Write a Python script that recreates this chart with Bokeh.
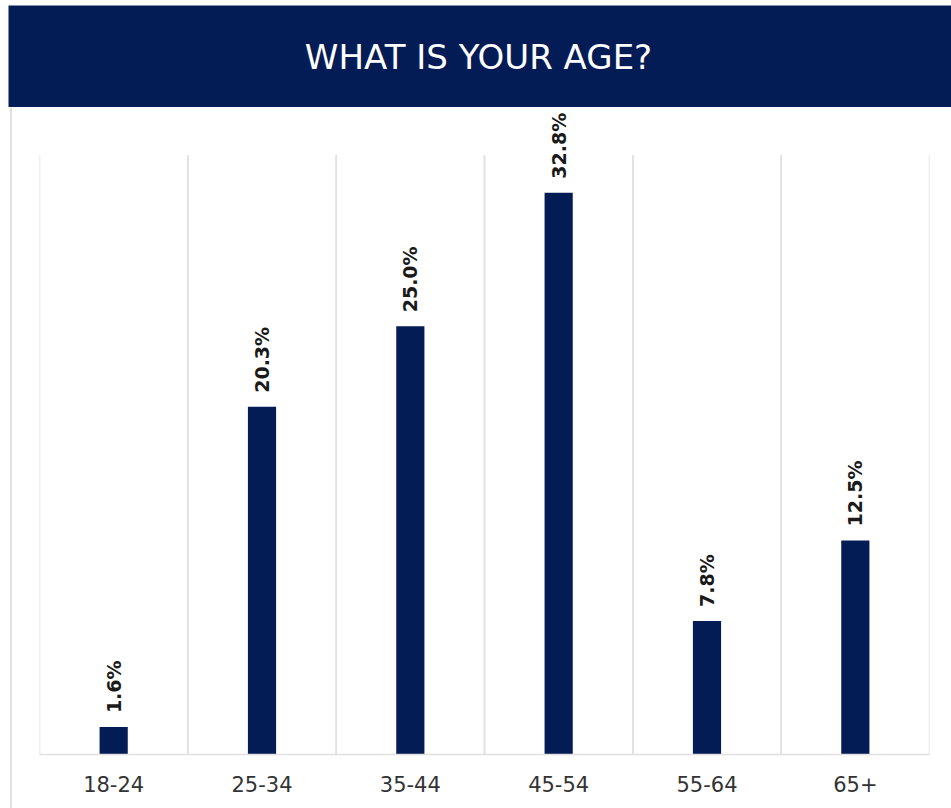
from math import pi

from bokeh.plotting import figure
from bokeh.models import Range1d, FactorRange, ColumnDataSource
from bokeh.transform import dodge
from bokeh.layouts import column, row
from bokeh.embed import file_html
from bokeh.resources import INLINE
from bokeh.core.properties import value

# ---- data ----
title_text = "WHAT IS YOUR AGE?"
categories = ["18-24", "25-34", "35-44", "45-54", "55-64", "65+"]
shares = [1.6, 20.3, 25.0, 32.8, 7.8, 12.5]
share_labels = ["1.6%", "20.3%", "25.0%", "32.8%", "7.8%", "12.5%"]

NAVY = "#041c55"
GRID = "#e0e0e0"
GRID_TOP = 35      # top of the category separators (value units)
Y_END = 37.6       # range end, leaves room for the rotated labels

# ---- banner ----
banner = figure(width=951, height=107, x_range=Range1d(0, 951), y_range=Range1d(107, 0),
                output_backend="svg", toolbar_location=None, min_border=0,
                outline_line_color=None)
banner.axis.visible = False
banner.grid.visible = False
banner.quad(left=[8], right=[951], top=[5], bottom=[107], fill_color=NAVY, line_color=None)
banner.text(x=[478], y=[56], text=[title_text], text_color="white",
            text_font=value("DejaVu Sans"), text_font_size="34px",
            text_align="center", text_baseline="middle")

# ---- left frame strip ----
strip = figure(width=39, height=701, x_range=Range1d(0, 39), y_range=Range1d(0, 701),
               output_backend="svg", toolbar_location=None, min_border=0,
               outline_line_color=None, frame_align=False)
strip.axis.visible = False
strip.grid.visible = False
strip.segment(x0=[10.5], y0=[0], x1=[10.5], y1=[701], line_color=GRID, line_width=2)

# ---- main chart ----
src = ColumnDataSource(dict(cat=categories, share=shares, label=share_labels))

p = figure(width=912, height=701, x_range=FactorRange(*categories), y_range=Range1d(0, Y_END),
           output_backend="svg", toolbar_location=None,
           min_border_left=0, min_border_right=22, min_border_top=3, min_border_bottom=54,
           outline_line_color=None)
p.yaxis.visible = False
p.xgrid.visible = False
p.ygrid.visible = False

p.segment(x0=dodge("cat", -0.5, range=p.x_range), y0=0,
          x1=dodge("cat", -0.5, range=p.x_range), y1=GRID_TOP,
          source=src, line_color=GRID, line_width=1.5)
p.segment(x0=dodge("cat", 0.5, range=p.x_range), y0=0,
          x1=dodge("cat", 0.5, range=p.x_range), y1=GRID_TOP,
          source=src, line_color=GRID, line_width=1.5)

p.vbar(x="cat", top="share", width=0.19, source=src, fill_color=NAVY, line_color=None)

p.text(x="cat", y="share", text="label", source=src, angle=pi / 2,
       text_align="left", text_baseline="middle", y_offset=-14,
       text_font=value("DejaVu Sans"), text_font_style="bold", text_font_size="19px",
       text_color="#1a1a1a")

p.xaxis.axis_line_color = GRID
p.xaxis.axis_line_width = 1.5
p.xaxis.major_tick_line_color = None
p.xaxis.minor_tick_line_color = None
p.xaxis.major_label_standoff = 15
p.xaxis.major_label_text_font = "DejaVu Sans"
p.xaxis.major_label_text_font_size = "21px"
p.xaxis.major_label_text_color = "#333333"

layout = column(banner, row(strip, p))

open("out.html", "w").write(file_html(layout, INLINE))
